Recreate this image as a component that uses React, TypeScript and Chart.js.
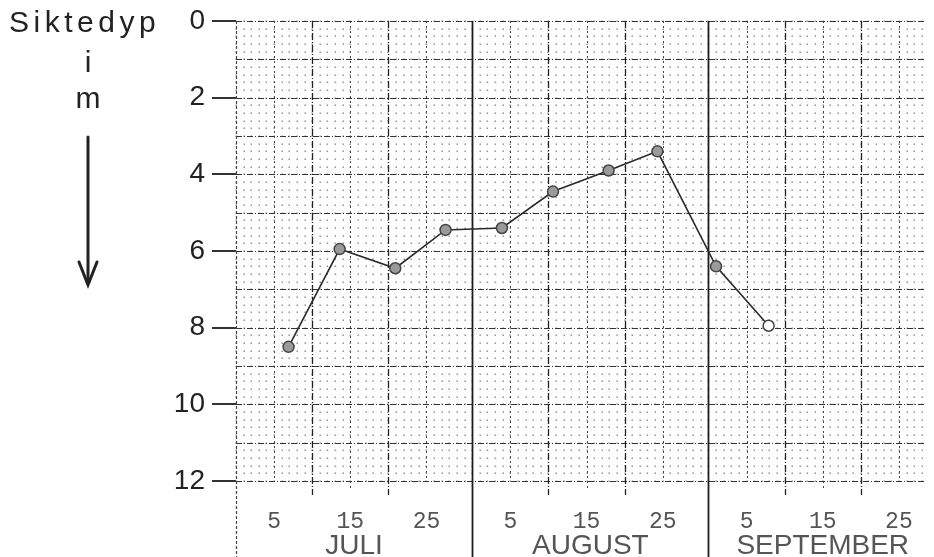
import React, { useEffect, useRef } from 'react';
import { Chart, registerables } from 'chart.js';

Chart.register(...registerables);

// days counted from the start of July (day 0 = 1 July, 00:00)
const sampleDays = [6.9, 13.6, 20.9, 27.5, 34.9, 41.6, 48.9, 55.3, 63.0, 69.9];
const depths = [8.5, 5.95, 6.45, 5.45, 5.4, 4.45, 3.9, 3.4, 6.4, 7.95];
const months = ['JULI', 'AUGUST', 'SEPTEMBER'];
const monthLengths = [31, 31, 30];
const dayTickLabels = [5, 15, 25];
const depthMin = 0;
const depthMax = 12;
const depthStep = 2;
const yTitle = ['Siktedyp', 'i', 'm'];
const X_MAX = 90.5;

const monthStarts: number[] = [];
{
  let s = 0;
  for (const len of monthLengths) {
    monthStarts.push(s);
    s += len;
  }
  monthStarts.push(s);
}
const xTickValues: number[] = [];
const xTickText: Record<number, string> = {};
monthStarts.slice(0, months.length).forEach((s) => {
  dayTickLabels.forEach((d) => {
    xTickValues.push(s + d);
    xTickText[s + d] = String(d);
  });
});

const paperPlugin = {
  id: 'paper',
  beforeDatasetsDraw(chart: any) {
    const { ctx, chartArea, scales } = chart;
    const { left, right, top, bottom } = chartArea;
    const x = scales.x;
    const y = scales.y;
    const H = chart.height;
    ctx.save();

    // minor dot grid: 1 day x 0.2 m
    ctx.fillStyle = 'rgba(80,80,80,0.7)';
    for (let d = 0; d <= Math.ceil(X_MAX); d++) {
      const px = x.getPixelForValue(d);
      if (px > right + 1) continue;
      for (let k = 0; k <= (depthMax - depthMin) * 5; k++) {
        const py = y.getPixelForValue(depthMin + k * 0.2);
        ctx.fillRect(Math.round(px) - 0.5, Math.round(py) - 0.5, 1.4, 1.4);
      }
    }

    // major horizontal lines every 1 m
    ctx.strokeStyle = '#333';
    ctx.lineWidth = 1;
    ctx.setLineDash([6, 2, 1, 2]);
    for (let m = depthMin; m <= depthMax; m++) {
      const py = Math.round(y.getPixelForValue(m)) + 0.5;
      ctx.beginPath();
      ctx.moveTo(left, py);
      ctx.lineTo(right, py);
      ctx.stroke();
    }

    // vertical lines per month
    monthStarts.forEach((s, i) => {
      const drawV = (v: number, y2: number, dash: number[], w: number, col: string) => {
        const px = x.getPixelForValue(v);
        if (px > right + 2) return;
        ctx.setLineDash(dash);
        ctx.lineWidth = w;
        ctx.strokeStyle = col;
        ctx.beginPath();
        ctx.moveTo(Math.round(px) + 0.5, top);
        ctx.lineTo(Math.round(px) + 0.5, y2);
        ctx.stroke();
      };
      if (i === 0) {
        drawV(s, H, [3, 2], 1.2, '#444');
      } else {
        drawV(s, H, [], 1.8, '#1e1e1e');
      }
      if (i < months.length) {
        [5, 15, 25].forEach((d) => drawV(s + d, d === 15 ? bottom + 8 : bottom, [2, 3], 1, '#444'));
        [10, 20].forEach((d) => drawV(s + d, bottom + 14, [7, 2, 1, 2], 1.3, '#222'));
      }
    });
    ctx.restore();
  },
  afterDraw(chart: any) {
    const { ctx, scales } = chart;
    const x = scales.x;
    ctx.save();
    // month names
    ctx.font = '28px "Liberation Sans", Arial, sans-serif';
    ctx.fillStyle = '#555';
    ctx.textAlign = 'center';
    ctx.textBaseline = 'alphabetic';
    months.forEach((name, i) => {
      const c = x.getPixelForValue(monthStarts[i] + monthLengths[i] / 2);
      ctx.fillText(name, c, 554);
    });

    // y axis title
    ctx.fillStyle = '#222';
    ctx.font = '30px "Liberation Sans", Arial, sans-serif';
    ctx.textAlign = 'left';
    (ctx as any).letterSpacing = '4.5px';
    ctx.fillText(yTitle[0], 9, 32);
    (ctx as any).letterSpacing = '0px';
    ctx.textAlign = 'center';
    ctx.fillText(yTitle[1], 88, 72);
    ctx.fillText(yTitle[2], 88, 108);

    // arrow
    ctx.strokeStyle = '#222';
    ctx.lineWidth = 3;
    ctx.lineCap = 'round';
    ctx.beginPath();
    ctx.moveTo(88, 137);
    ctx.lineTo(88, 282);
    ctx.stroke();
    ctx.beginPath();
    ctx.moveTo(79, 262);
    ctx.lineTo(88, 285);
    ctx.lineTo(97, 262);
    ctx.stroke();
    ctx.restore();
  },
};

export default function App() {
  const ref = useRef<HTMLCanvasElement | null>(null);
  useEffect(() => {
    if (!ref.current) return;
    const chart = new Chart(ref.current, {
      type: 'line',
      data: {
        datasets: [
          {
            data: sampleDays.map((d, i) => ({ x: d, y: depths[i] })),
            borderColor: '#2a2a2a',
            borderWidth: 1.6,
            tension: 0,
            pointRadius: 5.5,
            pointBorderWidth: 1.5,
            pointBorderColor: '#444',
            pointBackgroundColor: (c: any) => (c.dataIndex === depths.length - 1 ? '#ffffff' : '#9a9a9a'),
          },
        ],
      },
      options: {
        animation: false,
        responsive: false,
        devicePixelRatio: 1,
        layout: { padding: { left: 0, top: 17, right: 0, bottom: 0 } },
        plugins: { legend: { display: false }, tooltip: { enabled: false } },
        scales: {
          x: {
            type: 'linear',
            min: 0,
            max: X_MAX,
            grid: { display: false },
            border: { display: false },
            afterBuildTicks: (scale: any) => {
              scale.ticks = xTickValues.map((v) => ({ value: v }));
            },
            afterFit: (scale: any) => {
              scale.height = 76;
            },
            ticks: {
              autoSkip: false,
              maxRotation: 0,
              padding: 21,
              color: '#555',
              font: { family: '"Liberation Mono", monospace', size: 23, lineHeight: 1 },
              callback: (v: any) => xTickText[v as number] ?? '',
            },
          },
          y: {
            type: 'linear',
            reverse: true,
            min: depthMin,
            max: depthMax,
            afterFit: (scale: any) => {
              scale.width = 236;
            },
            grid: {
              display: true,
              drawOnChartArea: false,
              drawTicks: true,
              tickLength: 24,
              color: '#333',
              lineWidth: 2,
            },
            border: { display: false },
            ticks: {
              stepSize: depthStep,
              padding: 7,
              color: '#222',
              font: { family: '"Liberation Sans", Arial, sans-serif', size: 28, lineHeight: 1 },
            },
          },
        },
      },
      plugins: [paperPlugin],
    });
    return () => chart.destroy();
  }, []);
  return (
    <div style={{ position: 'absolute', left: 0, top: 0, width: 934, height: 557, background: '#fff' }}>
      <canvas ref={ref} width={934} height={557} />
    </div>
  );
}
